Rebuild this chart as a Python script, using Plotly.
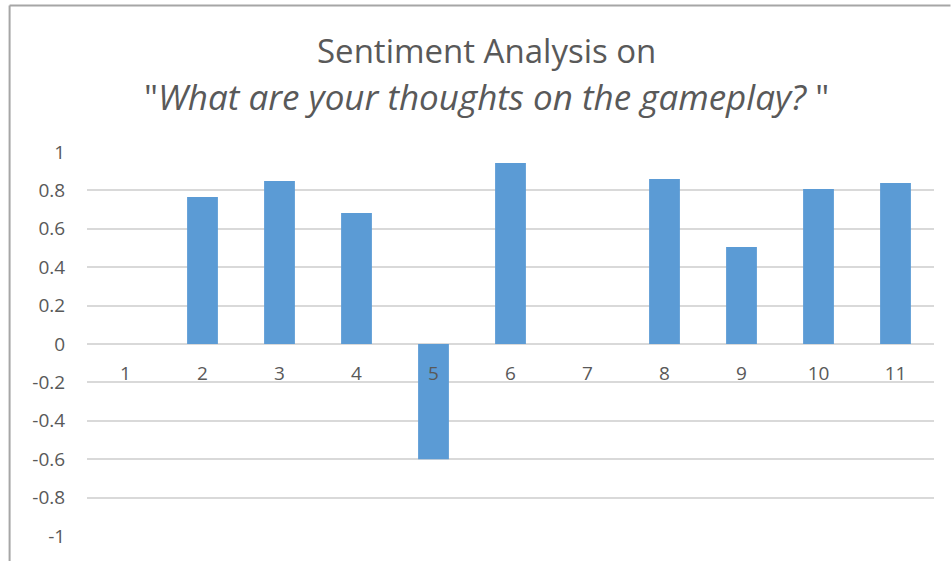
import plotly.graph_objects as go

# Responses and their sentiment scores
categories = ["1", "2", "3", "4", "5", "6", "7", "8", "9", "10", "11"]
sentiment = [0, 0.766, 0.849, 0.682, -0.6, 0.943, 0, 0.859, 0.505, 0.807, 0.839]
y_ticks = [1, 0.8, 0.6, 0.4, 0.2, 0, -0.2, -0.4, -0.6, -0.8, -1]
y_tick_labels = ["1", "0.8", "0.6", "0.4", "0.2", "0", "-0.2", "-0.4", "-0.6", "-0.8", "-1"]

title_line1 = "Sentiment Analysis on"
title_line2 = "\"<i>What are your thoughts on the gameplay? </i>\""

TITLE_FONT = "Open Sans, sans-serif"
FONT = "Open Sans, sans-serif"
TEXT = "#595959"
GRID = "#D9D9D9"
BAR = "#5B9BD5"

W, H = 951, 561
L, R, T, B = 86.5, 16.5, 152, 25
plot_w = W - L - R
plot_h = H - T - B


def px_x(px):
    """Horizontal pixel position -> paper fraction of the plot area."""
    return (px - L) / plot_w


def px_y(py):
    """Vertical pixel position (from top) -> paper fraction of the plot area."""
    return 1 + (T - py) / plot_h


fig = go.Figure(
    go.Bar(
        x=categories,
        y=sentiment,
        marker=dict(color=BAR, line=dict(width=0)),
        width=0.4,
        hoverinfo="x+y",
    )
)

fig.update_layout(
    width=W,
    height=H,
    margin=dict(l=L, r=R, t=T, b=B, autoexpand=False),
    paper_bgcolor="white",
    plot_bgcolor="white",
    showlegend=False,
    font=dict(family=FONT, color=TEXT, size=16),
    xaxis=dict(
        type="category",
        anchor="free",
        position=0.5,
        showline=False,
        showgrid=False,
        zeroline=False,
        ticks="outside",
        ticklen=12,
        tickcolor="rgba(0,0,0,0)",
        tickfont=dict(family=FONT, size=19, color=TEXT),
        range=[-0.5, len(categories) - 0.5],
    ),
    yaxis=dict(
        range=[-1, 1],
        tickvals=y_ticks,
        ticktext=y_tick_labels,
        showgrid=True,
        gridcolor=GRID,
        gridwidth=2,
        zeroline=True,
        zerolinecolor=GRID,
        zerolinewidth=2,
        showline=False,
        ticks="outside",
        ticklen=17,
        tickcolor="rgba(0,0,0,0)",
        tickfont=dict(family=FONT, size=19, color=TEXT),
    ),
    annotations=[
        dict(
            text=title_line1, xref="paper", yref="paper",
            x=px_x(486), y=px_y(50), xanchor="center", yanchor="middle",
            showarrow=False, font=dict(family=TITLE_FONT, size=33, color=TEXT),
        ),
        dict(
            text=title_line2, xref="paper", yref="paper",
            x=px_x(486), y=px_y(97), xanchor="center", yanchor="middle",
            showarrow=False, font=dict(family=TITLE_FONT, size=35, color=TEXT),
        ),
    ],
    shapes=[
        # frame edges along the top and left of the chart
        dict(type="line", xref="paper", yref="paper",
             x0=px_x(9), x1=px_x(W), y0=px_y(5.5), y1=px_y(5.5),
             line=dict(color="#A6A6A6", width=2)),
        dict(type="line", xref="paper", yref="paper",
             x0=px_x(9), x1=px_x(9), y0=px_y(5.5), y1=px_y(H),
             line=dict(color="#A6A6A6", width=2)),
    ],
)

fig.write_html("out.html")
